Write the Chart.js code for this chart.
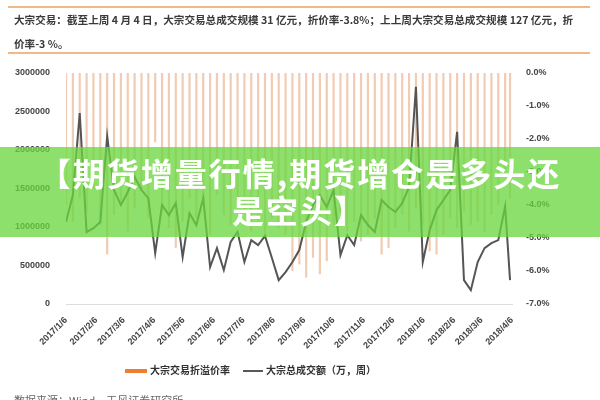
<!DOCTYPE html>
<html>
<head>
<meta charset="utf-8">
<script src="https://cdn.jsdelivr.net/npm/chart.js@4"></script>
<style>
  body { margin: 0; background: #fff; }
  #wrap { position: relative; width: 600px; height: 400px; overflow: hidden; font-family: "Noto Sans CJK SC", sans-serif; }
  #chart { position: absolute; left: 0; top: 0; }
  #header { position: absolute; left: 8px; top: 6px; width: 582px; height: 48px;
    border-top: 2px solid #f2b987; border-bottom: 2px solid #f2b987;
    font-size: 10.6px; font-weight: bold; color: #3a3a3a; line-height: 24px; padding-left: 6px; box-sizing: border-box; }
  #banner { position: absolute; left: 0; top: 147px; width: 600px; height: 90px;
    background: rgba(105, 214, 62, 0.76); color: #fff; font-weight: bold; font-size: 32px;
    letter-spacing: 2px; line-height: 37px; text-align: center; padding-top: 7px; box-sizing: border-box; }
  #legend { position: absolute; top: 362px; left: 0; width: 600px; font-size: 10px; font-weight: bold; color: #333; }
  .item { position: absolute; top: 0; white-space: nowrap; }
  .swatch { display: inline-block; vertical-align: middle; margin-right: 3px; }
  #source { position: absolute; left: 14px; top: 392px; font-size: 11px; color: #666; }
</style>
</head>
<body>
<div id="wrap">
  <canvas id="chart" width="600" height="400"></canvas>
  <div id="header">大宗交易：截至上周 4 月 4 日，大宗交易总成交规模 31 亿元，折价率-3.8%；上上周大宗交易总成交规模 127 亿元，折<br>价率-3 %。</div>
  <div id="legend">
    <span class="item" style="left:125px"><span class="swatch" style="width:22px;height:4px;background:#ed7d31"></span>大宗交易折溢价率</span>
    <span class="item" style="left:243px"><span class="swatch" style="width:20px;height:2px;background:#595959"></span>大宗总成交额（万，周）</span>
  </div>
  <div id="source">数据来源：Wind，天风证券研究所</div>
  <div id="banner">【期货增量行情,期货增仓是多头还<br>是空头】</div>
</div>
<script>
// weekly dates (x values)
const weeks = [
  "2017/1/6", "2017/1/13", "2017/1/20", "2017/1/27", "2017/2/3", "2017/2/10", "2017/2/17", "2017/2/24",
  "2017/3/3", "2017/3/10", "2017/3/17", "2017/3/24", "2017/3/31", "2017/4/7", "2017/4/14", "2017/4/21",
  "2017/4/28", "2017/5/5", "2017/5/12", "2017/5/19", "2017/5/26", "2017/6/2", "2017/6/9", "2017/6/16",
  "2017/6/23", "2017/6/30", "2017/7/7", "2017/7/14", "2017/7/21", "2017/7/28", "2017/8/4", "2017/8/11",
  "2017/8/18", "2017/8/25", "2017/9/1", "2017/9/8", "2017/9/15", "2017/9/22", "2017/9/29", "2017/10/6",
  "2017/10/13", "2017/10/20", "2017/10/27", "2017/11/3", "2017/11/10", "2017/11/17", "2017/11/24", "2017/12/1",
  "2017/12/8", "2017/12/15", "2017/12/22", "2017/12/29", "2018/1/5", "2018/1/12", "2018/1/19", "2018/1/26",
  "2018/2/2", "2018/2/9", "2018/2/16", "2018/2/23", "2018/3/2", "2018/3/9", "2018/3/16", "2018/3/23",
  "2018/3/30", "2018/4/4"
];

// 大宗总成交额（万，周）
const volume = [
  1065000, 1415000, 2480000, 935000, 985000, 1065000, 2180000, 1480000,
  1285000, 1455000, 1650000, 1480000, 1375000, 660000, 1285000, 1155000,
  1310000, 610000, 1180000, 1025000, 1375000, 480000, 725000, 440000,
  805000, 935000, 545000, 830000, 765000, 885000, 600000, 310000,
  415000, 545000, 700000, 1065000, 1285000, 1415000, 1260000, 1480000,
  635000, 895000, 765000, 1155000, 1025000, 935000, 1350000, 1260000,
  1195000, 1310000, 1520000, 2820000, 545000, 960000, 1220000, 1350000,
  1480000, 2235000, 310000, 180000, 545000, 725000, 790000, 830000,
  1270000, 310000
];

// 大宗交易折溢价率 (%)
const discount = [
  -4.0, -4.5, -3.8, -4.2, -3.5, -4.6, -5.5, -4.3,
  -3.9, -4.8, -4.1, -3.6, -4.4, -2.1, -4.2, -4.7,
  -5.3, -4.5, -3.8, -4.4, -4.0, -4.9, -3.7, -4.3,
  -4.6, -3.9, -4.2, -4.8, -4.5, -5.0, -4.4, -4.7,
  -4.9, -6.0, -5.8, -6.2, -5.6, -6.1, -5.7, -4.6,
  -4.2, -4.8, -4.5, -5.1, -4.9, -4.4, -5.5, -5.3,
  -4.7, -4.3, -4.8, -4.1, -4.6, -5.4, -5.5, -4.9,
  -4.4, -4.7, -4.2, -4.6, -4.5, -4.8, -4.3, -4.0,
  -3.0, -3.8
];

const tickLabels = [
  "2017/1/6", "2017/2/6", "2017/3/6", "2017/4/6", "2017/5/6", "2017/6/6", "2017/7/6", "2017/8/6",
  "2017/9/6", "2017/10/6", "2017/11/6", "2017/12/6", "2018/1/6", "2018/2/6", "2018/3/6", "2018/4/6"
];

function dayOf(s) {
  const p = s.split("/").map(Number);
  return (Date.UTC(p[0], p[1] - 1, p[2]) - Date.UTC(2017, 0, 6)) / 86400000;
}

const tickDays = tickLabels.map(dayOf);
const tickFont = { family: "Liberation Sans", size: 9, weight: "bold" };

new Chart(document.getElementById("chart"), {
  type: "bar",
  data: {
    datasets: [
      {
        type: "line",
        label: "大宗总成交额（万，周）",
        data: weeks.map((w, i) => ({ x: dayOf(w), y: volume[i] })),
        borderColor: "#555555",
        borderWidth: 2,
        pointRadius: 0,
        tension: 0,
        yAxisID: "y",
        order: 1,
      },
      {
        label: "大宗交易折溢价率",
        data: weeks.map((w, i) => ({ x: dayOf(w), y: discount[i] })),
        backgroundColor: "rgba(225, 140, 85, 0.45)",
        barPercentage: 0.45,
        categoryPercentage: 1,
        yAxisID: "y1",
        order: 2,
      },
    ],
  },
  options: {
    responsive: false,
    animation: false,
    layout: { padding: { left: 10, right: 50, top: 73, bottom: 48 } },
    plugins: { legend: { display: false }, tooltip: { enabled: false } },
    scales: {
      x: {
        type: "linear",
        offset: false,
        min: 0,
        max: dayOf("2018/4/6"),
        grid: { display: false },
        border: { color: "#dddddd" },
        afterBuildTicks: (scale) => {
          scale.ticks = tickDays.map((d) => ({ value: d }));
        },
        afterFit: (scale) => { scale.height = 48; },
        ticks: {
          minRotation: 45,
          maxRotation: 45,
          autoSkip: false,
          color: "#444",
          font: tickFont,
          callback: (v) => tickLabels[tickDays.indexOf(v)],
        },
      },
      y: {
        position: "left",
        min: 0,
        max: 3000000,
        grid: { display: false },
        border: { display: false },
        afterFit: (scale) => { scale.width = 56; },
        ticks: { stepSize: 500000, color: "#444", font: tickFont, padding: 8, callback: (v) => String(v) },
      },
      y1: {
        position: "right",
        min: -7,
        max: 0,
        grid: { display: false },
        border: { display: false },
        afterFit: (scale) => { scale.width = 38; },
        ticks: {
          stepSize: 1,
          color: "#444",
          font: tickFont,
          padding: 6,
          callback: (v) => v.toFixed(1) + "%",
        },
      },
    },
  },
});
</script>
</body>
</html>
